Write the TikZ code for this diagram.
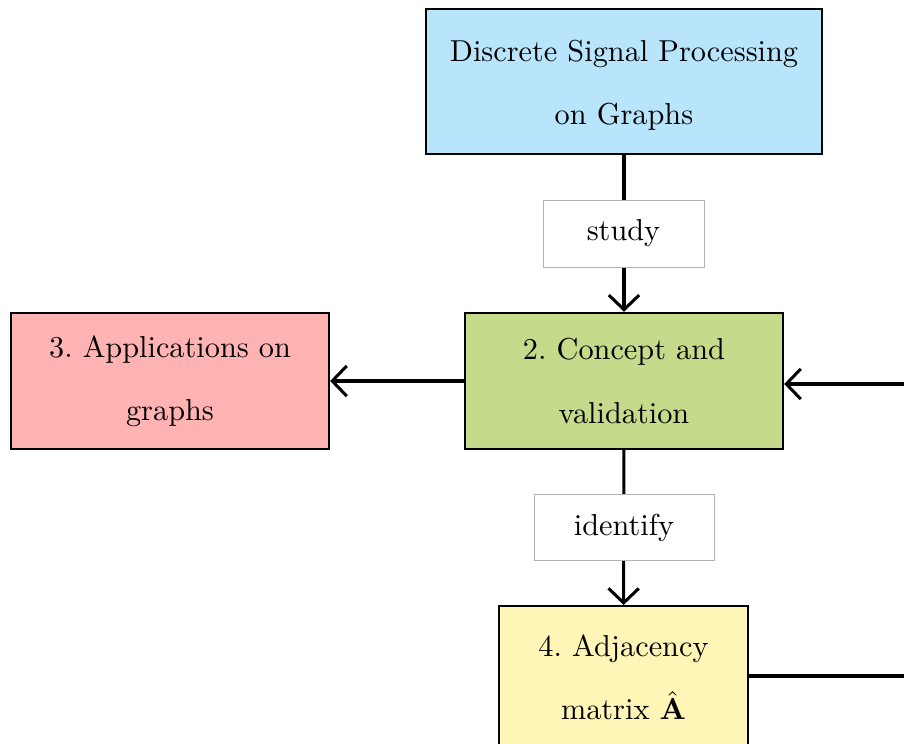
\documentclass[tikz,border=0pt]{standalone}
\usetikzlibrary{arrows.meta}
\definecolor{boxblue}{RGB}{185,229,252}
\definecolor{boxgreen}{RGB}{198,218,139}
\definecolor{boxred}{RGB}{255,179,179}
\definecolor{boxyellow}{RGB}{255,245,183}
\tikzset{
  mainbox/.style={draw=black, line width=0.8pt, align=center, inner sep=0pt,
    font={\fontsize{10pt}{20.8pt}\selectfont}},
  lblbox/.style={draw=black!30, line width=0.3pt, fill=white, inner sep=0pt,
    font={\fontsize{10pt}{12pt}\selectfont}},
  conn/.style={line width=1pt, -{Straight Barb[length=4.8pt,width=10pt,line width=1pt]}},
  plain/.style={line width=1pt}
}
\begin{document}
\begin{tikzpicture}[x=0.33pt,y=-0.33pt]
\useasboundingbox (0,0) rectangle (904,744);
\clip (0,0) rectangle (904,744);
\node[mainbox, fill=boxblue, minimum width=130.7pt, minimum height=47.8pt] (dsp) at (624,81.5) {\rule{0pt}{9.6pt}Discrete Signal Processing\\on Graphs};
\node[mainbox, fill=boxgreen, minimum width=104.9pt, minimum height=44.9pt] (concept) at (624,381) {2.~Concept and\\validation};
\node[mainbox, fill=boxred, minimum width=104.9pt, minimum height=44.9pt] (apps) at (170,381) {\rule{0pt}{7.6pt}3.~Applications on\\graphs};
\node[mainbox, fill=boxyellow, minimum width=82.2pt, minimum height=47.2pt, anchor=north] (adj) at (623.5,605) {4.~Adjacency\\matrix $\hat{\mathbf{A}}$};
\coordinate (rin) at (910,384);
\coordinate (rout) at (910,676);
\draw[conn] (dsp) -- (concept);
\draw[conn] (concept) -- (apps);
\draw[conn] (concept) -- (adj);
\draw[conn] (rin) -- (concept.east |- rin);
\draw[plain] (adj.east |- rout) -- (rout);
\node[lblbox, minimum width=53.1pt, minimum height=22.1pt] (study) at (623.5,233.5) {study};
\node[lblbox, minimum width=59.4pt, minimum height=21.5pt] (identify) at (624,527.5) {identify};
\end{tikzpicture}
\end{document}
